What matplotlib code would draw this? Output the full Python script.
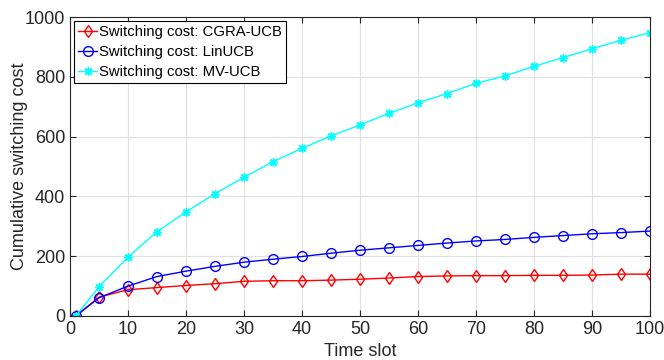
import numpy as np
import matplotlib.pyplot as plt

plt.rcParams['font.family'] = ['Liberation Sans', 'DejaVu Sans']

# datos
t = [1, 5, 10, 15, 20, 25, 30, 35, 40, 45, 50, 55, 60, 65, 70, 75, 80, 85, 90, 95, 100]
cgra = [0, 63, 88, 95, 102, 108, 116, 118, 118, 120, 123, 127, 132, 134, 135, 135, 136, 136, 137, 140, 140]
linucb = [0, 61, 100, 132, 150, 166, 180, 190, 199, 210, 220, 228, 236, 244, 251, 256, 263, 269, 275, 279, 284]
mvucb = [0, 98, 197, 282, 348, 409, 464, 516, 561, 602, 639, 678, 713, 744, 778, 803, 835, 864, 894, 922, 948]

gris = (0.15, 0.15, 0.15)
fig = plt.figure(figsize=(6.64, 3.6), dpi=100)
ax = fig.add_axes([70/664, 44/360, 580/664, 299/360])

ax.plot(t, cgra, c='r', marker='d', mfc='none', ms=6, lw=1, label='Switching cost: CGRA-UCB')
ax.plot(t, linucb, c='b', marker='o', mfc='none', ms=7, lw=1, label='Switching cost: LinUCB')
ax.plot(t, mvucb, c='cyan', marker=(8, 2, 0), ms=6, mew=1, lw=1, label='Switching cost: MV-UCB')

ax.set_xlim(0, 100)
ax.set_ylim(0, 1000)
ax.set_xticks(np.arange(0, 101, 10))
ax.set_yticks(np.arange(0, 1001, 200))
ax.grid(True, color=(0.88, 0.88, 0.88), lw=0.8)
ax.set_axisbelow(True)
ax.tick_params(direction='in', top=True, right=True, labelsize=13, colors=gris, length=4)
for s in ax.spines.values():
    s.set_color(gris)
ax.set_xlabel('Time slot', fontsize=13, color=gris, labelpad=4)
ax.set_ylabel('Cumulative switching cost', fontsize=13, color=gris, labelpad=-2)

leg = ax.legend(loc='upper left', fontsize=10.7, fancybox=False, edgecolor='k',
                handlelength=1.3, handletextpad=0.1, borderpad=0.25, labelspacing=0.4,
                borderaxespad=0.3, framealpha=1)
leg.get_frame().set_linewidth(0.8)

plt.savefig('out.png', dpi=100)
